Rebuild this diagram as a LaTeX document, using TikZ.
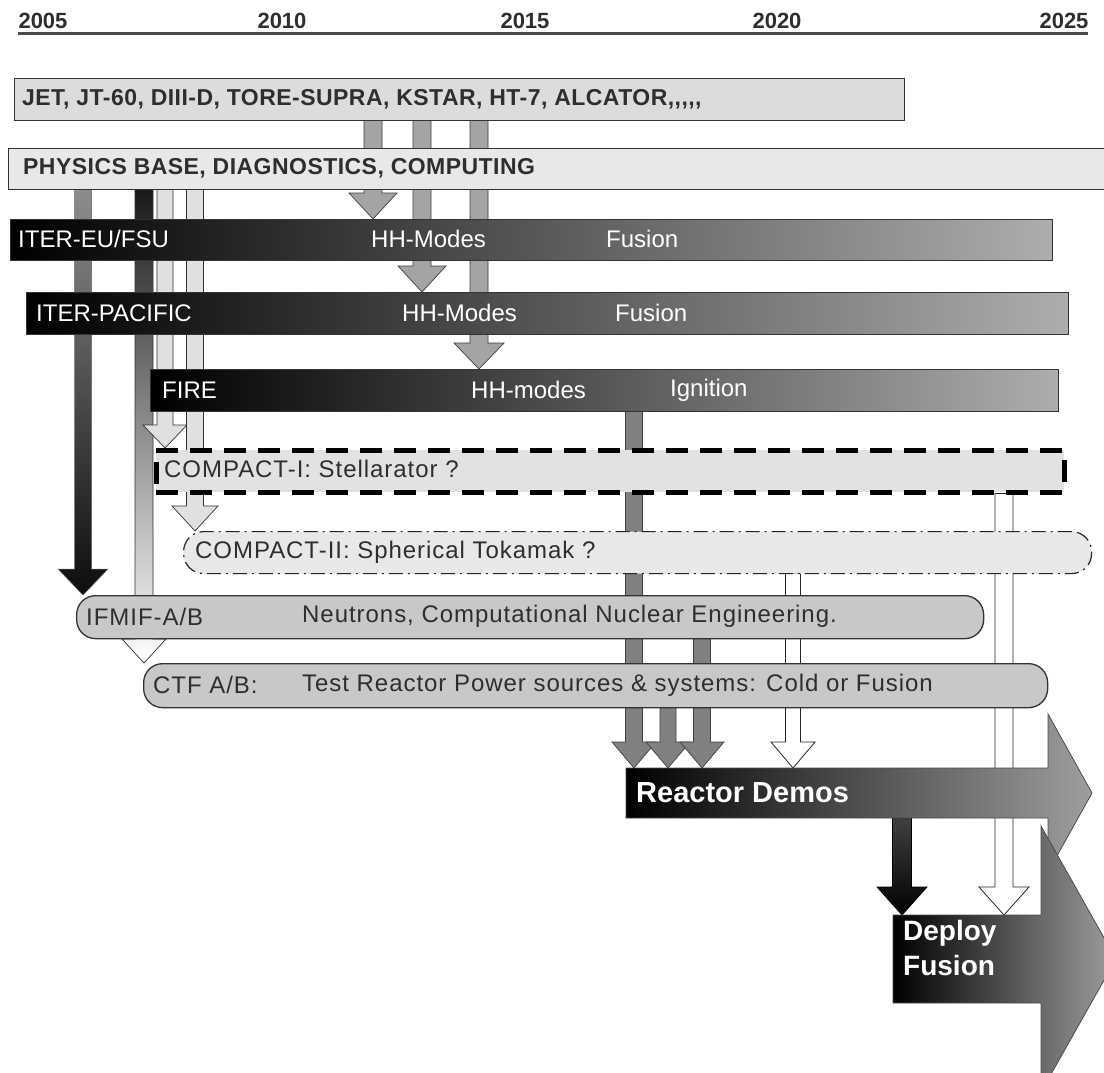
\documentclass[tikz,border=0pt]{standalone}
\usepackage{fontspec}
\setmainfont{Liberation Sans}
\newfontfamily\spacedfont[LetterSpace=4]{Liberation Sans}
\newfontfamily\topfont[LetterSpace=2]{Liberation Sans}
\usetikzlibrary{calc}
\pgfdeclarelayer{bg}
\pgfsetlayers{bg,main}
\definecolor{boxtext}{HTML}{2E2E2E}
\definecolor{lightbox}{HTML}{DCDCDC}
\definecolor{paperbox}{HTML}{E8E8E8}
\definecolor{midbox}{HTML}{C8C8C8}
\definecolor{compactfill}{HTML}{E2E2E2}
\definecolor{arrowgray}{HTML}{A4A4A4}
\definecolor{arrowdark}{HTML}{808080}
\definecolor{arrowlight}{HTML}{E0E0E0}
% block arrow: style, x, from node, to node, shaft half width, head half width, head length
\newcommand\varrow[7]{%
  \path[#1] let \p1=(#3.south), \p2=(#4.north) in
    ({#2pt-#5pt},{\y1+1pt}) -- ({#2pt-#5pt},{\y2+#7pt}) -- ({#2pt-#6pt},{\y2+#7pt})
    -- (#2pt,\y2) -- ({#2pt+#6pt},{\y2+#7pt}) -- ({#2pt+#5pt},{\y2+#7pt})
    -- ({#2pt+#5pt},{\y1+1pt}) -- cycle;}
\begin{document}
\begin{tikzpicture}[x=1pt,y=1pt,
  boxbase/.style={draw=black!80, line width=1.3pt, inner sep=0pt, anchor=north west},
  bar/.style={boxbase, left color=black, right color=black!32},
  roundbox/.style={boxbase, fill=midbox, rounded corners=19pt},
  toptext/.style={anchor=west, inner sep=0pt, text=boxtext, font=\fontsize{23}{26}\selectfont\topfont\bfseries},
  bartext/.style={anchor=west, inner sep=0pt, text=white, font=\fontsize{24}{28}\selectfont},
  lowtext/.style={anchor=west, inner sep=0pt, text=boxtext, font=\fontsize{24}{27}\selectfont\spacedfont},
  yeartext/.style={inner sep=0pt, text=boxtext, font=\fontsize{22}{24}\selectfont\bfseries},
  bigtext/.style={anchor=west, inner sep=0pt, text=white, font=\fontsize{29}{34}\selectfont\bfseries},
  grayarr/.style={fill=arrowgray, draw=black!75, line width=0.7pt},
  darkarr/.style={fill=arrowdark, draw=black!75, line width=0.7pt},
  lightarr/.style={fill=arrowlight, draw=black!80, line width=0.7pt},
  whitearr/.style={fill=white, draw=black!85, line width=0.8pt},
  blackarr/.style={top color=black!75, bottom color=black, draw=black, line width=0.7pt},
  fadearr/.style={top color=black!45, bottom color=black!95, draw=black!60, line width=0.5pt},
  lightfadearr/.style={top color=black!90, bottom color=white, draw=black!80, line width=0.7pt}
]
\begin{pgfonlayer}{bg}
\fill[white] (0,0) rectangle (1104,-1072);
\end{pgfonlayer}
\useasboundingbox (0,0) rectangle (1104,-1072);

% time axis
\node[yeartext] (y2005) at (43,-21) {2005};
\node[yeartext] (y2010) at (282,-21) {2010};
\node[yeartext] (y2015) at (525,-21) {2015};
\node[yeartext] (y2020) at (777,-21) {2020};
\node[yeartext] (y2025) at (1064,-21) {2025};
\coordinate (axisL) at (18,-33);
\coordinate (axisR) at (1088,-33);
\draw[line width=3pt, black!70] (axisL) -- (axisR);

% top boxes
\node[boxbase, fill=lightbox, minimum width=890pt, minimum height=42pt] (jet) at (14,-78) {};
\node[toptext] (jettxt) at (22,-99) {JET, JT-60, DIII-D, TORE-SUPRA, KSTAR, HT-7, ALCATOR,{},{},{},{},};
\node[boxbase, fill=paperbox, minimum width=1110pt, minimum height=41pt] (phys) at (8,-148) {};
\node[toptext] (phystxt) at (23,-168.5) {PHYSICS BASE, DIAGNOSTICS, COMPUTING};

% shaded bars
\node[bar, minimum width=1042pt, minimum height=41pt] (itereu) at (10,-219) {};
\node[bartext] (eu1) at (18,-239) {ITER-EU/FSU};
\node[bartext] (eu2) at (371,-239) {HH-Modes};
\node[bartext] (eu3) at (606,-239) {Fusion};

\node[bar, minimum width=1042pt, minimum height=42pt] (iterpac) at (26,-292) {};
\node[bartext] (pac1) at (36,-313) {ITER-PACIFIC};
\node[bartext] (pac2) at (402,-313) {HH-Modes};
\node[bartext] (pac3) at (615,-313) {Fusion};

\node[bar, minimum width=908pt, minimum height=42pt] (fire) at (150,-369) {};
\node[bartext] (fire1) at (162,-390) {FIRE};
\node[bartext] (fire2) at (471,-390) {HH-modes};
\node[bartext] (fire3) at (670,-390) {Ignition};

% compact concepts
\node[boxbase, draw=black, fill=compactfill, line width=4.5pt, dash pattern=on 22pt off 12pt, minimum width=908pt, minimum height=42pt] (compacti) at (154,-448) {};
\node[lowtext] (c1txt) at (164,-469) {COMPACT-I: Stellarator ?};
\node[boxbase, draw=black!85, fill=compactfill!80, line width=1.2pt, rounded corners=20pt, dash pattern=on 14pt off 5pt on 2pt off 5pt, minimum width=908pt, minimum height=42pt] (compactii) at (183,-531) {};
\node[lowtext] (c2txt) at (195,-552) {COMPACT-II: Spherical Tokamak ?};

% facilities
\node[roundbox, minimum width=907pt, minimum height=43pt] (ifmif) at (76,-595) {};
\node[lowtext] (if1) at (86,-616.5) {IFMIF-A/B};
\node[lowtext] (if2) at (302,-616.5) {Neutrons, Computational Nuclear Engineering.};
\node[roundbox, minimum width=904pt, minimum height=44pt] (ctf) at (143,-663) {};
\node[lowtext] (ctf1) at (153,-685) {CTF A/B:};
\node[lowtext] (ctf2) at (302,-685) {Test Reactor Power sources \& systems: Cold or Fusion};

% Reactor Demos block arrow
\draw[left color=black, right color=black!38, draw=black!70, line width=0.8pt]
  (626,-768) -- (1048,-768) -- (1048,-714) -- (1092,-793) -- (1048,-872)
  -- (1048,-818) -- (626,-818) -- cycle;
\node[boxbase, draw=none, minimum width=422pt, minimum height=50pt] (reactor) at (626,-768) {};
\node[bigtext] (rtxt) at (636,-793) {Reactor Demos};

% Deploy Fusion block arrow
\draw[left color=black, right color=black!38, draw=black!70, line width=0.8pt]
  (893,-915) -- (1041,-915) -- (1041,-826) -- (1116,-959) -- (1041,-1092)
  -- (1041,-1003) -- (893,-1003) -- cycle;
\node[boxbase, draw=none, minimum width=148pt, minimum height=88pt] (deploy) at (893,-915) {};
\node[bigtext, align=left, font=\fontsize{28}{35}\selectfont\bfseries] (dtxt) at (903,-948) {Deploy\\Fusion};

% connectors (behind the boxes)
\begin{pgfonlayer}{bg}
\varrow{grayarr}{373}{jet}{itereu}{9}{24}{26}
\varrow{grayarr}{422}{jet}{iterpac}{9}{24}{26}
\varrow{grayarr}{479}{jet}{fire}{9}{25}{26}
\varrow{fadearr}{83}{phys}{ifmif}{8.5}{25}{26}
\varrow{lightfadearr}{144}{phys}{ctf}{9}{22}{24}
\varrow{lightarr}{165}{phys}{compacti}{8}{22}{23}
\varrow{lightarr}{195}{phys}{compactii}{8.5}{23}{25}
\varrow{darkarr}{634}{fire}{reactor}{8.5}{22}{26}
\varrow{darkarr}{668}{ctf}{reactor}{8}{22}{26}
\varrow{darkarr}{702}{ifmif}{reactor}{8.5}{22}{26}
\varrow{whitearr}{793}{compactii}{reactor}{7.5}{22}{26}
\varrow{whitearr}{1004}{compacti}{deploy}{9}{25}{28}
\varrow{blackarr}{902}{reactor}{deploy}{9.5}{25}{28}
\end{pgfonlayer}
\end{tikzpicture}
\end{document}
